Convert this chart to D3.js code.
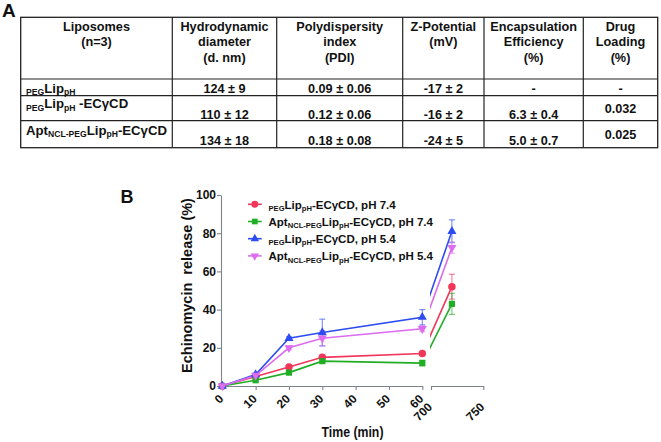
<!DOCTYPE html>
<html><head><meta charset="utf-8">
<script src="https://cdn.jsdelivr.net/npm/d3@7"></script>
<style>
body{margin:0;background:#fff}
svg{display:block;background:#fff}
text{font-family:"Liberation Sans",Arial,sans-serif;font-weight:bold;white-space:pre;fill:#111}
</style>
</head><body>
<svg id="c" width="661" height="442"></svg>
<script>
// ---------- DATA ----------
const timePoints = [0, 10, 20, 30, 60, 720];
const seriesNames = [
  "_{PEG}Lip_{pH}-ECγCD, pH 7.4",
  "Apt_{NCL-PEG}Lip_{pH}-ECγCD, pH 7.4",
  "_{PEG}Lip_{pH}-ECγCD, pH 5.4",
  "Apt_{NCL-PEG}Lip_{pH}-ECγCD, pH 5.4"
];
const redMeans     = [0, 5, 10, 15, 17, 52];
const redErr       = [0, 0.6, 1, 1, 1, 6.5];
const greenMeans   = [0, 3, 7, 13, 12, 43];
const greenErr     = [0, 0.6, 0.8, 0.8, 1.5, 5.5];
const blueMeans    = [0, 6, 25, 28, 36, 81];
const blueErr      = [0, 0.8, 0.8, 7, 4, 6];
const magentaMeans = [0, 5.5, 20, 25, 30, 72.5];
const magentaErr   = [0, 0.8, 1, 4, 1.5, 3];
const yTicks  = [0, 20, 40, 60, 80, 100];
const xTicksA = [0, 10, 20, 30, 40, 50, 60];
const xTicksB = [700, 750];

const tableHeaders = [
  ["Liposomes", "(n=3)"],
  ["Hydrodynamic", "diameter", "(d. nm)"],
  ["Polydispersity", "index", "(PDI)"],
  ["Z-Potential", "(mV)"],
  ["Encapsulation", "Efficiency", "(%)"],
  ["Drug", "Loading", "(%)"]
];
const tableLabels = ["_{PEG}Lip_{pH}", "_{PEG}Lip_{pH} -ECγCD", "Apt_{NCL-PEG}Lip_{pH}-ECγCD"];
const diameterCol = ["124 ± 9", "110 ± 12", "134 ± 18"];
const pdiCol      = ["0.09 ± 0.06", "0.12 ± 0.06", "0.18 ± 0.08"];
const zetaCol     = ["-17 ± 2", "-16 ± 2", "-24 ± 5"];
const eeCol       = ["-", "6.3 ± 0.4", "5.0 ± 0.7"];
const dlCol       = ["-", "0.032", "0.025"];

// ---------- STYLE ----------
const seriesColors = ["#f2365a", "#1fae24", "#2c4bf0", "#dc6cf0"];
const axisColor = "#7d848c";

const svg = d3.select("#c");

function richText(sel, str, size, subSize, subDy) {
  const parts = str.split(/(_\{[^}]*\})/).filter(s => s.length);
  let shift = 0;
  parts.forEach(p => {
    const isSub = p.startsWith("_{");
    const t = isSub ? p.slice(2, -1) : p;
    const target = isSub ? subDy : 0;
    sel.append("tspan").attr("font-size", isSub ? subSize : size)
      .attr("dy", target - shift).text(t);
    shift = target;
  });
}

// ---------- TABLE (A) ----------
const colX = [20.7, 172.3, 276.7, 402.7, 484, 583.3, 657.7];
const rowY = [17.3, 79, 95.7, 120.7, 147.7];
const tg = svg.append("g");
tg.append("rect").attr("x", colX[0]).attr("y", rowY[0])
  .attr("width", colX[6] - colX[0]).attr("height", rowY[4] - rowY[0])
  .attr("fill", "none").attr("stroke", "#222").attr("stroke-width", 1.3);
colX.slice(1, 6).forEach(cx => tg.append("line").attr("x1", cx).attr("x2", cx)
  .attr("y1", rowY[0]).attr("y2", rowY[4]).attr("stroke", "#222").attr("stroke-width", 1.2));
rowY.slice(1, 4).forEach(ry => tg.append("line").attr("x1", colX[0]).attr("x2", colX[6])
  .attr("y1", ry).attr("y2", ry).attr("stroke", "#222").attr("stroke-width", 1.2));

const colCenter = i => (colX[i] + colX[i + 1]) / 2;
tableHeaders.forEach((lines, i) => {
  lines.forEach((ln, j) => {
    tg.append("text").attr("x", colCenter(i)).attr("y", 30.5 + j * 15.8)
      .attr("text-anchor", "middle").attr("font-size", 12.7).text(ln);
  });
});
const labelBase = [92.5, 108, 134.5];
const valueBase = [92.5, 118.5, 144.5];
const dlBase = [92.5, 112.5, 138.5];
tableLabels.forEach((lab, r) => {
  const t = tg.append("text").attr("x", 26).attr("y", labelBase[r]);
  richText(t, lab, 13.2, 8.6, 2.5);
});
[diameterCol, pdiCol, zetaCol, eeCol].forEach((col, ci) => {
  col.forEach((v, r) => {
    tg.append("text").attr("x", colCenter(ci + 1)).attr("y", valueBase[r])
      .attr("text-anchor", "middle").attr("font-size", 12.7).text(v);
  });
});
dlCol.forEach((v, r) => {
  tg.append("text").attr("x", colCenter(5)).attr("y", dlBase[r])
    .attr("text-anchor", "middle").attr("font-size", 12.7).text(v);
});
svg.append("text").attr("x", 2).attr("y", 17.3).attr("font-size", 19).text("A");

// ---------- CHART (B) ----------
svg.append("text").attr("x", 120.5).attr("y", 203.3).attr("font-size", 18).text("B");

const y = d3.scaleLinear().domain([0, 100]).range([386, 195]);
const xA = d3.scaleLinear().domain([0, 60]).range([222.3, 422.3]);
const xB = d3.scaleLinear().domain([700, 750]).range([431, 483.3]);
const x = d3.scaleLinear().domain([0, 60, 700, 750]).range([222.3, 422.3, 431, 483.3]);

function styleAxis(g) {
  g.selectAll("path,line").attr("stroke", axisColor).attr("stroke-width", 1.1);
  g.selectAll("text").attr("font-size", 12).attr("font-family", null).attr("fill", "#111");
}

const gy = svg.append("g").attr("transform", "translate(221,0)")
  .call(d3.axisLeft(y).tickValues(yTicks).tickSize(4).tickPadding(1).tickSizeOuter(0));
styleAxis(gy);

const gxA = svg.append("g").attr("transform", "translate(0,386)")
  .call(d3.axisBottom(xA).tickValues(xTicksA).tickSize(4).tickSizeOuter(0));
styleAxis(gxA);
gxA.selectAll("text").attr("x", 0).attr("y", 0).attr("dy", "0.35em")
  .attr("text-anchor", "end").attr("transform", "translate(-1.5,10.5) rotate(-45)");

const gxB = svg.append("g").attr("transform", "translate(0,386)")
  .call(d3.axisBottom(xB).tickValues(xTicksB).tickSize(4).tickSizeOuter(0));
styleAxis(gxB);
gxB.selectAll("text").attr("x", 0).attr("y", 0).attr("dy", "0.35em")
  .attr("text-anchor", "end").attr("transform", "translate(-1.5,18.7) rotate(-45)");

svg.append("text").attr("transform", "translate(192.3,285.5) rotate(-90)")
  .attr("text-anchor", "middle").attr("font-size", 14.5).text("Echinomycin  release (%)");
svg.append("text").attr("x", 321.5).attr("y", 436.7).attr("font-size", 15)
  .attr("textLength", 62).attr("lengthAdjust", "spacingAndGlyphs").text("Time (min)");

// clip paths for broken axis
const defs = svg.append("defs");
defs.append("clipPath").attr("id", "clipA").append("rect")
  .attr("x", 0).attr("y", 0).attr("width", 422.8).attr("height", 442);
defs.append("clipPath").attr("id", "clipB").append("rect")
  .attr("x", 430).attr("y", 0).attr("width", 231).attr("height", 442);

const series = [
  { means: redMeans, err: redErr, sym: d3.symbolCircle, size: 44, rot: 0 },
  { means: greenMeans, err: greenErr, sym: d3.symbolSquare, size: 38, rot: 0 },
  { means: blueMeans, err: blueErr, sym: d3.symbolTriangle, size: 36, rot: 0 },
  { means: magentaMeans, err: magentaErr, sym: d3.symbolTriangle, size: 36, rot: 180 }
];

const line = d3.line().x(d => x(d.t)).y(d => y(d.v));
const cap = 3;

// error bars
series.forEach((s, k) => {
  const g = svg.append("g").attr("stroke", seriesColors[k]).attr("stroke-opacity", 0.6).attr("stroke-width", 1.2);
  timePoints.forEach((t, i) => {
    if (!s.err[i]) return;
    const cx = x(t), y1 = y(s.means[i] + s.err[i]), y2 = y(s.means[i] - s.err[i]);
    g.append("line").attr("x1", cx).attr("x2", cx).attr("y1", y1).attr("y2", y2);
    g.append("line").attr("x1", cx - cap).attr("x2", cx + cap).attr("y1", y1).attr("y2", y1);
    g.append("line").attr("x1", cx - cap).attr("x2", cx + cap).attr("y1", y2).attr("y2", y2);
  });
});

// lines
series.forEach((s, k) => {
  const pts = timePoints.map((t, i) => ({ t, v: s.means[i] }));
  ["clipA", "clipB"].forEach(c => {
    svg.append("path").attr("d", line(pts)).attr("fill", "none")
      .attr("stroke", seriesColors[k]).attr("stroke-width", 1.6)
      .attr("clip-path", `url(#${c})`);
  });
});

// markers
series.forEach((s, k) => {
  const sym = d3.symbol().type(s.sym).size(s.size);
  timePoints.forEach((t, i) => {
    svg.append("path").attr("d", sym())
      .attr("transform", `translate(${x(t)},${y(s.means[i])}) rotate(${s.rot})`)
      .attr("fill", seriesColors[k]);
  });
});

// legend
seriesNames.forEach((name, k) => {
  const ly = 204.3 + k * 17.2;
  const s = series[k];
  svg.append("line").attr("x1", 248).attr("x2", 261.7).attr("y1", ly).attr("y2", ly)
    .attr("stroke", seriesColors[k]).attr("stroke-width", 1.6);
  svg.append("path").attr("d", d3.symbol().type(s.sym).size(s.size * 0.85)())
    .attr("transform", `translate(254.8,${ly}) rotate(${s.rot})`).attr("fill", seriesColors[k]);
  const t = svg.append("text").attr("x", 268.5).attr("y", ly + 4.2);
  richText(t, name, 11.5, 7.6, 2.4);
});
</script>
</body></html>
